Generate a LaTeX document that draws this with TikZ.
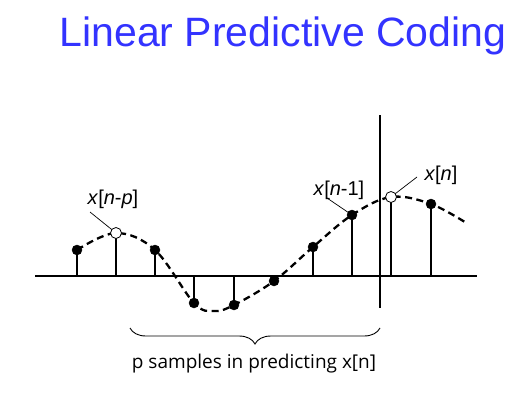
\documentclass[tikz,border=0pt]{standalone}
\usepackage{fontspec}
\setmainfont{Liberation Sans}
\newfontfamily\notefont{Open Sans}
\usetikzlibrary{decorations.pathreplacing}
\definecolor{titleblue}{RGB}{51,51,255}

\tikzset{
  stem/.style={line width=1.9pt},
  wave/.style={line width=2.3pt, dash pattern=on 7pt off 4.5pt},
  leader/.style={line width=0.7pt},
  lbl/.style={inner sep=0pt, font=\fontsize{20}{22}\selectfont}
}

\begin{document}
\begin{tikzpicture}[x=1pt,y=-1pt]
\useasboundingbox (0,0) rectangle (521,393);

% title
\node[text=titleblue, font=\fontsize{41}{46}\selectfont] (title) at (283,36) {Linear Predictive Coding};

% axes
\coordinate (axl) at (35,276);
\coordinate (axr) at (477,276);
\coordinate (vt) at (380,115);
\coordinate (vb) at (380,308);
\draw[line width=1.6pt] (axl) -- (axr);
\draw[line width=1.6pt] (vt) -- (vb);

% samples and stems
\foreach \i/\x/\y in {1/77/250, 2/116/233, 3/155/250, 4/194/303, 5/234/305,
                      6/274/281, 7/313/247, 8/352/215, 9/391/197, 10/431/204} {
  \coordinate (b\i) at (\x,276);
  \coordinate (s\i) at (\x,\y);
  \draw[stem] (b\i) -- (s\i);
}

% dashed wave
\draw[wave] plot[smooth, tension=0.6] coordinates {(77,250) (116,233) (155,250)
  (194,303) (214,311) (234,305) (274,281) (313,247) (352,215) (391,197) (431,204) (468,224)};

% labels
\node[lbl] (lp) at (113,199) {\textit{x}[\textit{n}-\textit{p}]};
\node[lbl] (l1) at (339,190) {\textit{x}[\textit{n}-1]};
\node[lbl] (l0) at (441,175) {\textit{x}[\textit{n}]};
\coordinate (lpa) at (90,212);
\coordinate (l1a) at (327,198);
\coordinate (l0a) at (417,177);
\draw[leader] (lpa) -- (s2);
\draw[leader] (l1a) -- (s8);
\draw[leader] (l0a) -- (s9);

% dots
\foreach \i in {1,3,4,5,6,7,8,10}
  \draw[fill=black] (s\i) circle[radius=5pt];
\foreach \i in {2,9}
  \draw[fill=white, line width=0.8pt] (s\i) circle[radius=5.5pt];

% brace
\coordinate (bl) at (130,328);
\coordinate (br) at (380,328);
\draw[line width=0.9pt, decorate, decoration={brace, mirror, amplitude=16pt}] (bl) -- (br);
\node[font=\notefont\fontsize{19}{22}\selectfont] (note) at (254,364) {p samples in predicting x[n]};
\end{tikzpicture}
\end{document}
